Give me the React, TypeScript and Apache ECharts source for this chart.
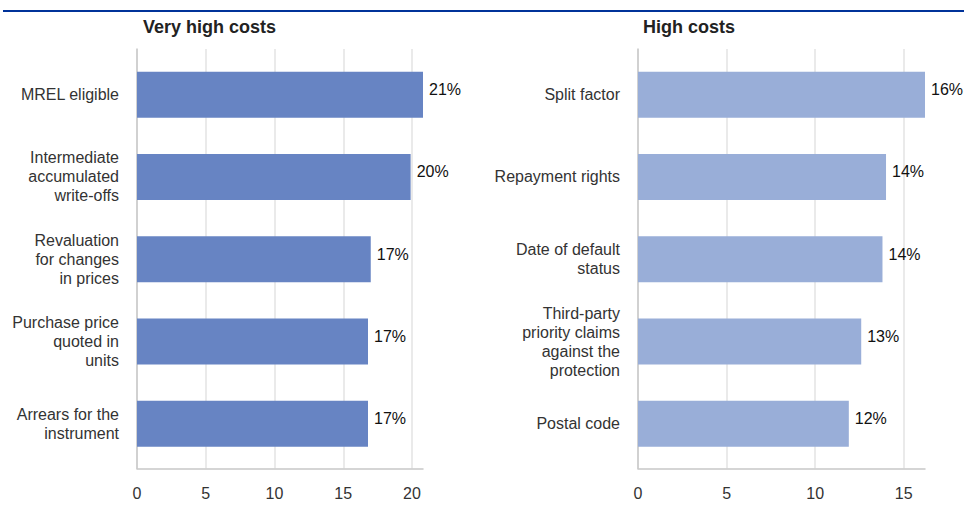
import React, { useEffect, useRef } from "react";
import * as echarts from "echarts";

const leftTitle = "Very high costs";
const rightTitle = "High costs";
const leftCategories = [
  "MREL eligible",
  "Intermediate\naccumulated\nwrite-offs",
  "Revaluation\nfor changes\nin prices",
  "Purchase price\nquoted in\nunits",
  "Arrears for the\ninstrument",
];
const leftValues = [20.8, 19.9, 17.0, 16.8, 16.8];
const rightCategories = [
  "Split factor",
  "Repayment rights",
  "Date of default\nstatus",
  "Third-party\npriority claims\nagainst the\nprotection",
  "Postal code",
];
const rightValues = [16.2, 14.0, 13.8, 12.6, 11.9];

const FONT = "'Liberation Sans', Arial, Helvetica, sans-serif";
const LEFT_COLOR = "#6784c3";
const RIGHT_COLOR = "#99aed8";

export default function App() {
  const ref = useRef<HTMLDivElement>(null);
  useEffect(() => {
    if (!ref.current) return;
    const chart = echarts.init(ref.current, undefined, { renderer: "svg" });
    const leftMax = Math.max(...leftValues);
    const rightMax = Math.max(...rightValues);

    const axesGrid = (left: number, width: number) => ({ left, width, top: 49, height: 419.5 });
    const barsGrid = (left: number, width: number) => ({ left, width, top: 53.5, height: 411.5 });

    const visibleX = (gridIndex: number, max: number) => ({
      type: "value",
      gridIndex,
      min: 0,
      max,
      interval: 5,
      axisLine: { show: true, lineStyle: { color: "#c8c8c8", width: 1.5 } },
      axisTick: { show: false },
      axisLabel: {
        showMaxLabel: false,
        margin: 17,
        fontSize: 16,
        color: "#333",
        fontFamily: FONT,
      },
      splitLine: { show: true, showMaxLine: false, lineStyle: { color: "#e3e3e3", width: 1.5 } },
    });
    const hiddenX = (gridIndex: number, max: number) => ({
      type: "value",
      gridIndex,
      min: 0,
      max,
      show: false,
      splitLine: { show: false },
    });
    const axisY = (gridIndex: number, cats: string[]) => ({
      type: "category",
      gridIndex,
      data: cats,
      inverse: true,
      axisLine: { show: true, lineStyle: { color: "#c8c8c8", width: 1.5 } },
      axisTick: { show: false },
      axisLabel: { show: false },
      splitLine: { show: false },
    });
    const labelY = (gridIndex: number, cats: string[]) => ({
      type: "category",
      gridIndex,
      data: cats,
      inverse: true,
      axisLine: { show: false },
      axisTick: { show: false },
      axisLabel: {
        margin: 18,
        fontSize: 16,
        lineHeight: 19,
        color: "#333",
        fontFamily: FONT,
        align: "right",
        padding: [3, 0, 0, 0],
      },
      splitLine: { show: false },
    });
    const barSeries = (idx: number, data: number[], color: string) => ({
      type: "bar",
      xAxisIndex: idx,
      yAxisIndex: idx,
      data,
      barWidth: 46,
      itemStyle: { color },
      label: {
        show: true,
        position: "right",
        distance: 6,
        offset: [0, -5],
        fontSize: 16,
        color: "#111",
        fontFamily: FONT,
        formatter: (p: any) => Math.round(p.value) + "%",
      },
    });

    chart.setOption({
      animation: false,
      backgroundColor: "#ffffff",
      title: [
        {
          text: leftTitle,
          left: 138,
          top: 13,
          textStyle: { fontSize: 18, fontWeight: "bold", color: "#222", fontFamily: FONT },
        },
        {
          text: rightTitle,
          left: 638,
          top: 13,
          textStyle: { fontSize: 18, fontWeight: "bold", color: "#222", fontFamily: FONT },
        },
      ],
      graphic: [
        {
          type: "line",
          shape: { x1: 3, y1: 11, x2: 964, y2: 11 },
          style: { stroke: "#003299", lineWidth: 2 },
        },
      ],
      grid: [axesGrid(137, 286), barsGrid(137, 286), axesGrid(638, 287), barsGrid(638, 287)],
      xAxis: [visibleX(0, leftMax), hiddenX(1, leftMax), visibleX(2, rightMax), hiddenX(3, rightMax)],
      yAxis: [
        axisY(0, leftCategories),
        labelY(1, leftCategories),
        axisY(2, rightCategories),
        labelY(3, rightCategories),
      ],
      series: [barSeries(1, leftValues, LEFT_COLOR), barSeries(3, rightValues, RIGHT_COLOR)],
    });
    return () => chart.dispose();
  }, []);
  return (
    <div
      ref={ref}
      style={{ position: "absolute", left: 0, top: 0, width: 964, height: 508 }}
    />
  );
}
